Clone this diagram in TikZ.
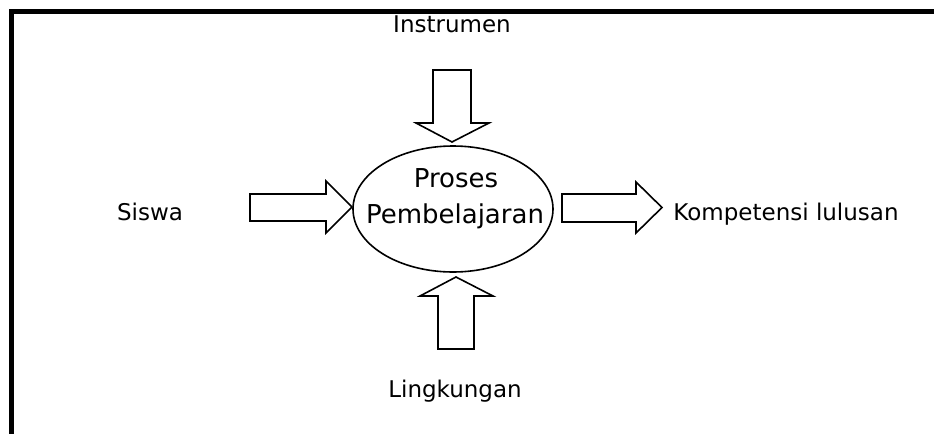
\documentclass[tikz,border=0pt]{standalone}
\usepackage{fontspec}
\setmainfont{DejaVu Sans}
\usetikzlibrary{shapes.geometric}
\tikzset{
  frameline/.style={line width=5pt},
  blockarrow/.style={draw, line width=1.6pt, line join=miter, fill=white},
  lbl/.style={inner sep=0pt, anchor=base, font=\fontsize{23}{27}\selectfont},
  proc/.style={draw, line width=1.6pt, ellipse, minimum width=200pt, minimum height=126pt, inner sep=0pt},
  proctext/.style={inner sep=0pt, anchor=base, font=\fontsize{26}{30}\selectfont}
}
\begin{document}
\begin{tikzpicture}[x=1pt,y=-1pt]
\useasboundingbox (0,0) rectangle (934,434);
% frame
\draw[frameline] (934,11.5) -- (11.5,11.5) -- (11.5,434);
% central process
\node[proc] (proc) at (453,209) {};
\node[proctext] (t1) at (456,187) {Proses};
\node[proctext] (t2) at (455,223) {Pembelajaran};
% labels
\node[lbl] (instr) at (452,32) {Instrumen};
\node[lbl] (siswa) at (150,220) {Siswa};
\node[lbl] (komp) at (786,220) {Kompetensi lulusan};
\node[lbl] (ling) at (455,397) {Lingkungan};
% block arrows
\draw[blockarrow] (250,194) -- (326,194) -- (326,181) -- (352,207) -- (326,233) -- (326,221) -- (250,221) -- cycle;
\draw[blockarrow] (562,194) -- (636,194) -- (636,182) -- (662,207.5) -- (636,233) -- (636,222) -- (562,222) -- cycle;
\draw[blockarrow] (433,70) -- (471,70) -- (471,123) -- (489,123) -- (452,142) -- (416,123) -- (433,123) -- cycle;
\draw[blockarrow] (438,349) -- (474,349) -- (474,296) -- (493,296) -- (456,277) -- (420,296) -- (438,296) -- cycle;
\end{tikzpicture}
\end{document}
